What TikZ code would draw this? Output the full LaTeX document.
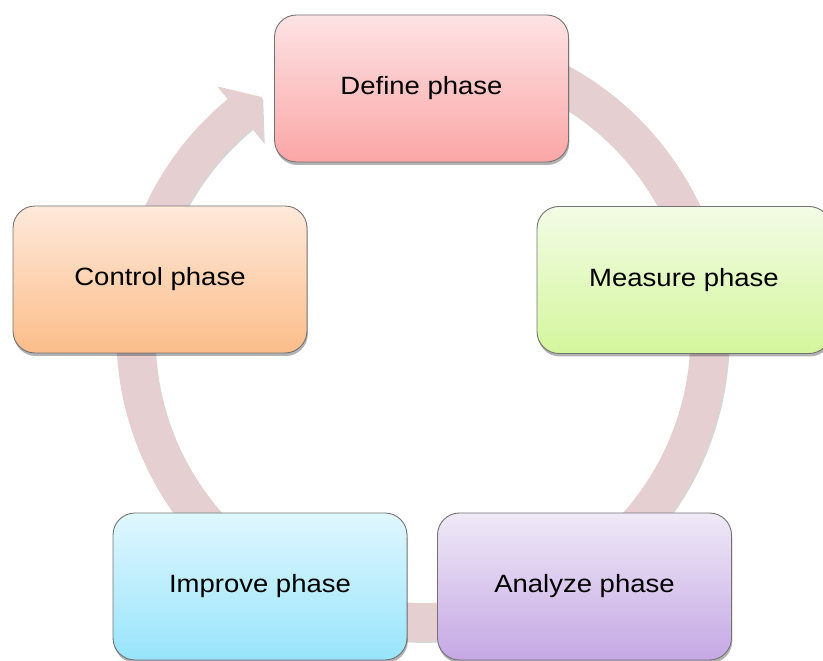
\documentclass[tikz,border=0pt]{standalone}
\usepackage{fontspec}
\setmainfont{Liberation Sans}[FakeStretch=1.1]
\usetikzlibrary{shadows}

% box gradients (top / bottom)
\definecolor{defineT}{RGB}{253,227,228}
\definecolor{defineB}{RGB}{251,166,166}
\definecolor{measureT}{RGB}{243,252,230}
\definecolor{measureB}{RGB}{212,246,156}
\definecolor{analyzeT}{RGB}{239,233,247}
\definecolor{analyzeB}{RGB}{197,168,228}
\definecolor{improveT}{RGB}{224,247,254}
\definecolor{improveB}{RGB}{152,228,251}
\definecolor{controlT}{RGB}{254,233,219}
\definecolor{controlB}{RGB}{252,189,138}
\definecolor{ringcol}{RGB}{229,207,209}

\begin{document}
\begin{tikzpicture}[x=1pt,y=1pt,
  phase/.style={rounded corners=22pt, minimum width=294pt, minimum height=147pt,
    draw=black!55, line width=0.9pt, inner sep=0pt,
    font=\fontsize{25}{30}\selectfont,
    drop shadow={shadow xshift=0.8pt, shadow yshift=-3pt, opacity=0.3, fill=black}},
  cyclepath/.style={insert path={
    (80:306) arc[start angle=80, end angle=-230.5, radius=306]
    -- (-230.5:322) -- (-236:287) -- (-230.5:250) -- (-230.5:268)
    arc[start angle=-230.5, end angle=80, radius=268] -- cycle}}
  ]
\useasboundingbox (0,0) rectangle (823,661);

% circular arrow running behind the phases
\begin{scope}[shift={(422.5,326)}]
  \fill[black, opacity=0.16, shift={(1.2,-1.8)}, cyclepath];
  \fill[ringcol, cyclepath];
\end{scope}

% the five phases
\node[phase, top color=defineT,  bottom color=defineB]  (define)  at (421.5,572.5) {Define phase};
\node[phase, top color=measureT, bottom color=measureB] (measure) at (684,381)     {Measure phase};
\node[phase, top color=analyzeT, bottom color=analyzeB] (analyze) at (584.5,74.5)  {Analyze phase};
\node[phase, top color=improveT, bottom color=improveB] (improve) at (260,74.5)    {Improve phase};
\node[phase, top color=controlT, bottom color=controlB] (control) at (160,381.5)   {Control phase};
\end{tikzpicture}
\end{document}
